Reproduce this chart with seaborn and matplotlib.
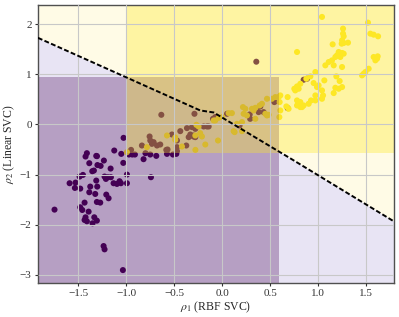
import matplotlib
matplotlib.use("Agg")
import matplotlib.pyplot as plt
import seaborn as sns
import pandas as pd

# class 0 points (dark purple), rho1 / rho2
purple_x = [-1.125, -1.052, -1.41, -1.424, -1.3125, -1.385, -1.30, -1.267, -1.233, -1.031,
            -1.163, -1.337, -1.354, -1.59, -1.528, -1.486, -1.451, -1.535, -1.479, -1.375,
            -1.302, -1.3125, -1.226, -1.191, -1.16, -1.212, -1.132, -1.097, -1.07, -1.056,
            -0.993, -0.993, -1.385, -1.323, -1.208, -1.184, -1.434, -1.306, -1.271, -1.479,
            -1.458, -1.392, -1.747, -1.424, -1.434, -1.41, -1.333, -1.306, -1.351, -1.236,
            -1.226, -1.035, -0.743, -1.028, -0.82, -0.75, -0.6875, -0.576, -0.479, -0.972,
            -0.9375, -0.91, -0.80, -0.514, -1.305,
            -0.95, -0.837, -0.75, -0.733, -0.715, -0.757, -0.646, -0.57, -0.472, -0.524,
            -0.375, -0.333, -0.281, -0.472, -0.635, -0.29, -0.368, -0.316, -0.281, -0.4375,
            -0.3, -0.68, -0.583, -0.472, 0.354, 0.882, 0.847, 0.396, 0.542, 0.378,
            0.43, 0.285, 0.29, 0.18, 0.049, -0.073, -0.097, -0.16, -0.142, -0.194,
            0.68, -0.35, -0.30]
purple_y = [-0.52, -0.587, -0.573, -0.64, -0.627, -0.773, -0.81, -0.827, -0.72, -0.767,
            -0.88, -0.92, -0.933, -1.173, -1.16, -1.04, -1.007, -1.267, -1.28, -1.24,
            -1.24, -1.12, -1.04, -1.053, -1.053, -1.087, -1.173, -1.187, -1.133, -1.173,
            -1.0, -1.173, -1.353, -1.387, -1.40, -1.473, -1.56, -1.547, -1.56, -1.653,
            -1.707, -1.74, -1.70, -1.853, -1.907, -1.933, -1.853, -1.92, -1.973, -2.427,
            -2.493, -2.907, -1.053, -0.267, -0.693, -0.60, -0.627, -0.587, -0.587, -0.60,
            -0.60, -0.60, -0.573, -0.60, -0.633,
            -0.507, -0.42, -0.32, -0.387, -0.353, -0.24, -0.40, -0.50, -0.533, -0.20,
            -0.42, -0.20, -0.253, -0.32, 0.193, 0.213, -0.073, -0.053, -0.087, -0.133,
            -0.22, -0.42, -0.507, -0.453, 1.253, 0.913, 0.893, 0.36, 0.447, 0.247,
            0.247, 0.20, 0.113, -0.02, 0.213, 0.147, 0.113, -0.04, -0.04, -0.04,
            0.327, -0.253, -0.24]

# class 1 points (yellow)
yellow_x = [-0.785, -0.576, -0.49, -0.28, -0.993, -0.49, -0.42, -0.281, -0.247, -0.27,
            -0.23, 0.128, -0.073, 1.038, 1.517, 1.257, 1.257, 1.264, 1.542, 1.576,
            1.622, 1.247, 1.264, 1.309, 1.243, 1.149, 0.778, 1.212, 1.247, 1.194,
            1.229, 1.264, 1.177, 1.142, 1.108, 1.073, 1.16, 1.247, 1.576, 1.611,
            1.594, 1.618, 1.524, 1.49, 1.455, 1.472, 0.969, 0.917, 0.875, 1.1875,
            1.0625, 1.222, 0.951, 1.003, 0.986, 0.8125, 0.778, 0.75, 0.795, 0.76,
            1.177, 1.212, 1.247, 1.16, 1.038, 1.049, 1.038, 0.969, 0.969, 0.924,
            0.899, 0.847, 0.68, 0.778, 0.8125, 0.795, 0.83, 0.778, 0.8125, 0.667,
            0.69, 0.604, 0.597, 0.604, 0.587, 0.552, 0.517, 0.465, 0.413, 0.389,
            0.215, 0.24, 0.309, 0.326, 0.344, 0.222, 0.257, 0.448, 0.483, 0.344,
            0.465, 0.594, 0.066, 0.10, -0.038, -0.003, -0.09, 0.205, 0.153, 0.118,
            0.205, -0.212, -0.045, -0.177]
yellow_y = [-0.453, -0.22, -0.26, -0.507, -0.553, -0.307, -0.44, -0.22, -0.04, -0.007,
            -0.173, -0.153, 0.08, 2.147, 2.033, 1.913, 1.813, 1.76, 1.813, 1.793,
            1.76, 1.68, 1.627, 1.633, 1.613, 1.60, 1.447, 1.447, 1.427, 1.38,
            1.347, 1.413, 1.347, 1.28, 1.247, 1.18, 1.18, 1.147, 1.347, 1.313,
            1.28, 1.36, 1.113, 1.047, 0.98, 1.013, 1.047, 0.96, 0.913, 0.96,
            0.88, 0.867, 0.827, 0.78, 0.747, 0.813, 0.76, 0.713, 0.713, 0.68,
            0.733, 0.713, 0.747, 0.627, 0.68, 0.58, 0.513, 0.58, 0.48, 0.48,
            0.413, 0.38, 0.547, 0.48, 0.447, 0.413, 0.347, 0.38, 0.347, 0.36,
            0.313, 0.58, 0.447, 0.28, 0.547, 0.547, 0.513, 0.513, 0.413, 0.38,
            0.347, 0.313, 0.313, 0.28, 0.333, 0.213, 0.18, 0.213, 0.193, 0.113,
            0.18, 0.147, 0.227, 0.227, 0.133, 0.147, 0.08, 0.047, 0.013, -0.133,
            -0.133, -0.24, -0.32, -0.40]

# linear SVC boundary (dashed)
boundary_x = [-1.92, -0.23, -0.09, 0.72, 1.80]
boundary_y = [1.73, 0.28, 0.24, -0.69, -1.95]

# RBF SVC regions (rectangles)
rbf_purple_xmax, rbf_purple_ymax = 0.59, 0.94
rbf_yellow_xmin, rbf_yellow_ymin = -0.99, -0.57

XLIM = (-1.92, 1.79)
YLIM = (-3.16, 2.39)

df = pd.DataFrame({
    "rho1": purple_x + yellow_x,
    "rho2": purple_y + yellow_y,
    "label": [0] * len(purple_x) + [1] * len(yellow_x),
})

sns.set_style("whitegrid")
plt.rcParams["font.family"] = ["Liberation Serif", "DejaVu Serif"]
plt.rcParams["mathtext.fontset"] = "stix"

fig, ax = plt.subplots(figsize=(3.99, 3.17), dpi=100)

# linear SVC background
ax.fill_between(boundary_x, boundary_y, YLIM[1], color="#fffbe6", lw=0, zorder=0.5)
ax.fill_between(boundary_x, YLIM[0], boundary_y, color="#e8e4f4", lw=0, zorder=0.5)

sns.scatterplot(data=df, x="rho1", y="rho2", hue="label",
                palette={0: "#440154", 1: "#fde725"}, s=19, linewidth=0,
                legend=False, ax=ax, zorder=1)

# RBF SVC regions drawn over the points
ax.fill_between([XLIM[0] - 1, rbf_purple_xmax], YLIM[0] - 1, rbf_purple_ymax,
                color="#440154", alpha=0.3, lw=0, zorder=1.5)
ax.fill_between([rbf_yellow_xmin, XLIM[1] + 1], rbf_yellow_ymin, YLIM[1] + 1,
                color="#fde725", alpha=0.35, lw=0, zorder=1.6)

ax.plot(boundary_x, boundary_y, color="black", ls=(0, (2.5, 1.2)), lw=1.4, zorder=3)

ax.set_xlim(*XLIM)
ax.set_ylim(*YLIM)
ax.set_xticks([-1.5, -1.0, -0.5, 0.0, 0.5, 1.0, 1.5])
ax.set_yticks([-3, -2, -1, 0, 1, 2])
ax.set_axisbelow(False)
ax.grid(color="#c8c8c8", lw=0.8)
for s in ax.spines.values():
    s.set_color("#505050")
    s.set_linewidth(1.0)
ax.tick_params(axis="both", labelsize=8, colors="#333333", length=2.5, width=0.8,
               direction="out", bottom=True, left=True, pad=2)
ax.set_xlabel(r"$\rho_1$ (RBF SVC)", fontsize=8.5, labelpad=1)
ax.set_ylabel(r"$\rho_2$ (Linear SVC)", fontsize=8.5, labelpad=2)

fig.subplots_adjust(left=0.095, right=0.988, top=0.985, bottom=0.108)
fig.savefig("out.png", dpi=100)
